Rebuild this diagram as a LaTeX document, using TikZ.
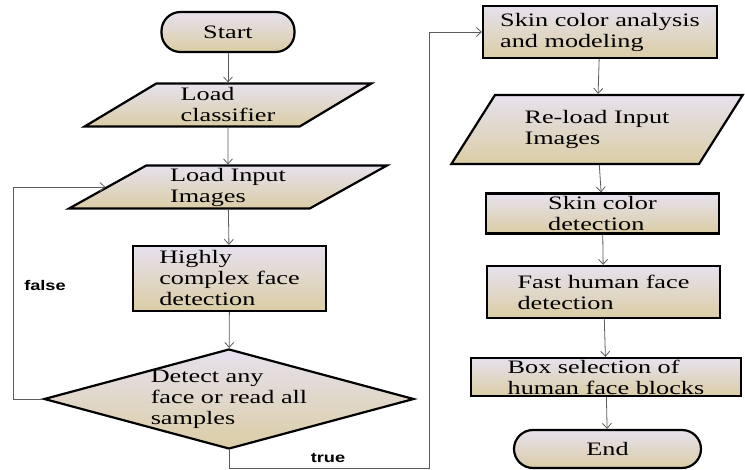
\documentclass[tikz,border=0pt]{standalone}
\usepackage{fontspec}
\setmainfont[FakeStretch=1.38]{Liberation Serif}
\newfontfamily\lblfont[FakeStretch=1.3]{Liberation Sans}
\usetikzlibrary{arrows.meta,shapes.geometric}

\definecolor{shTop}{HTML}{E6E1EE}
\definecolor{shMid}{HTML}{EFE9D6}
\definecolor{shBot}{HTML}{DBCDA5}
\definecolor{flowline}{HTML}{5C5C5C}

\begin{document}
\begin{tikzpicture}[
  x=1pt, y=-1pt,
  every node/.style={font=\fontsize{19}{21}\selectfont, align=left, inner sep=0pt},
  shapefill/.style={draw=black, line width=2.2pt, top color=shTop, middle color=shMid, bottom color=shBot},
  procbox/.style={shapefill, rectangle},
  termbox/.style={shapefill, rectangle, rounded corners=19pt, align=center},
  iobox/.style={shapefill, trapezium, trapezium stretches=true},
  decbox/.style={shapefill, diamond},
  flow/.style={->, draw=flowline, line width=0.8pt},
  branch/.style={font=\lblfont\bfseries\fontsize{14}{16}\selectfont},
  >={Straight Barb[length=5pt,width=9pt]}
]
\useasboundingbox (0,0) rectangle (745,470);

% ---------- Left column ----------
\node[termbox, minimum width=133, minimum height=40] (start) at (228,32) {Start};
\node[iobox, trapezium left angle=36, trapezium right angle=144,
      minimum width=287, minimum height=43] (lcl) at (228,105) {Load\\ classifier};
\node[iobox, trapezium left angle=35, trapezium right angle=145,
      minimum width=318, minimum height=43] (lii) at (228,187) {Load Input\\Images};
\node[procbox, minimum width=193, minimum height=65] (hcf) at (229.5,278.5) {Highly\\complex face\\detection};
\node[decbox, minimum width=370, minimum height=100] (dec) at (229,399) {};
\node (dectext) at (dec.center) {Detect any\\face or read all\\samples};

% ---------- Right column ----------
\node[procbox, minimum width=234, minimum height=52] (ska) at (600,32) {Skin color analysis\\and modeling};
\node[iobox, trapezium left angle=51, trapezium right angle=129,
      minimum width=292, minimum height=69] (rli) at (597,129.5) {Re-load Input\\Images};
\node[procbox, minimum width=233, minimum height=40] (scd) at (602.5,213.5) {Skin color\\detection};
\node[procbox, minimum width=233, minimum height=52] (fhd) at (603.5,292) {Fast human face\\detection};
\node[procbox, minimum width=270, minimum height=38] (bsh) at (606,377) {Box selection of\\human face blocks};
\node[termbox, minimum width=187, minimum height=38] (end) at (607.5,449) {End};

% ---------- Flow ----------
\draw[flow] (start) -- (lcl);
\draw[flow] (lcl) -- (lii);
\draw[flow] (lii) -- (hcf);
\draw[flow] (hcf) -- (dec);
\draw[flow] (ska) -- (rli);
\draw[flow] (rli) -- (scd);
\draw[flow] (scd) -- (fhd);
\draw[flow] (fhd) -- (bsh);
\draw[flow] (bsh) -- (end);

% ---------- Branches ----------
\coordinate (falseturn) at (13,399);
\draw[flow] (dec.west) -- (falseturn) |- (lii.west);
\node[branch] (falselbl) at (45,285) {false};

\coordinate (truecol) at (429,468);
\draw[flow] (dec.south) |- (truecol) |- (ska.west);
\node[branch] (truelbl) at (328,458) {true};

\end{tikzpicture}
\end{document}
